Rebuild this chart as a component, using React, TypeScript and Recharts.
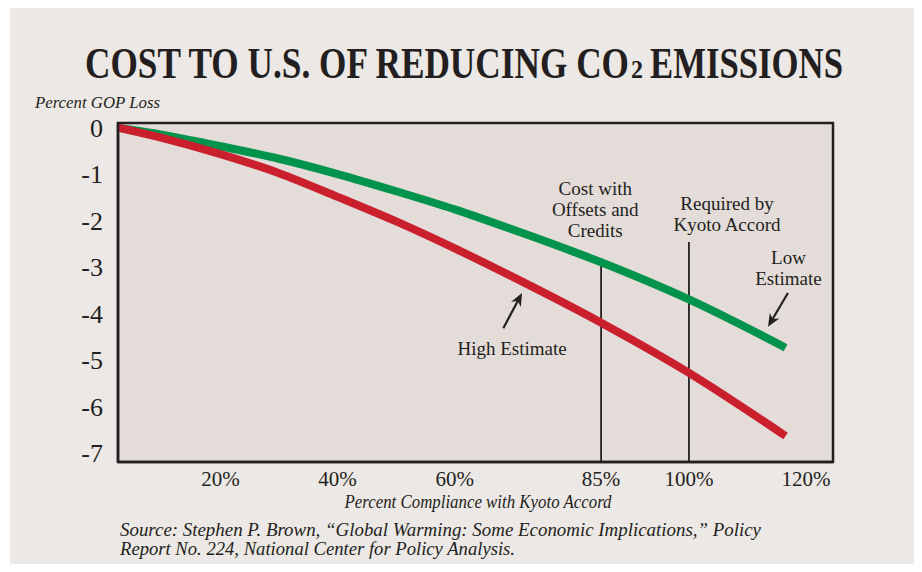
import React from "react";
import {
  LineChart,
  Line,
  XAxis,
  YAxis,
  ReferenceArea,
  ReferenceLine,
  ReferenceDot,
} from "recharts";

// Percent compliance with the Kyoto Accord (x) and percent GDP loss (y)
const compliance = [2.5, 10, 20, 30, 40, 50, 60, 70, 85, 100, 116.5];
const lowEstimate = [0, -0.15, -0.4, -0.67, -1.0, -1.37, -1.76, -2.2, -2.9, -3.7, -4.74];
const highEstimate = [0, -0.22, -0.57, -0.98, -1.49, -2.02, -2.6, -3.22, -4.2, -5.28, -6.64];

const xTicks = [20, 40, 60, 85, 100, 120];
const yTicks = [0, -1, -2, -3, -4, -5, -6, -7];

const X_DOMAIN: [number, number] = [2.5, 124.6];
const Y_DOMAIN: [number, number] = [-7.2, 0.1];

const serif = '"Liberation Serif", "DejaVu Serif", serif';
const ink = "#231f20";
const green = "#00934b";
const red = "#ca202e";

// horizontal squeeze for the condensed title face
const TITLE_SX = 0.7;

const data = compliance.map((pct, i) => ({
  pct,
  low: lowEstimate[i],
  high: highEstimate[i],
}));

function NoteText({ cx, cy, lines }: { cx: number; cy: number; lines: string[] }) {
  return (
    <text
      x={cx}
      y={cy}
      textAnchor="middle"
      style={{ fontFamily: serif, fontSize: 19, fill: ink }}
    >
      {lines.map((line, i) => (
        <tspan key={i} x={cx} dy={i === 0 ? "0.35em" : 21}>
          {line}
        </tspan>
      ))}
    </text>
  );
}

// line with a barbed head at the (x2, y2) end
function Arrow(props: any) {
  const { x1, y1, x2, y2 } = props;
  const a = Math.atan2(y2 - y1, x2 - x1);
  const cos = Math.cos(a);
  const sin = Math.sin(a);
  const len = 13;
  const half = 5.5;
  const bx = x2 - len * cos;
  const by = y2 - len * sin;
  const nx = x2 - len * 0.7 * cos;
  const ny = y2 - len * 0.7 * sin;
  const pts = [
    [x2, y2],
    [bx - half * sin, by + half * cos],
    [nx, ny],
    [bx + half * sin, by - half * cos],
  ]
    .map((p) => p.join(","))
    .join(" ");
  return (
    <g>
      <line x1={x1} y1={y1} x2={nx} y2={ny} stroke={ink} strokeWidth={2.2} />
      <polygon points={pts} fill={ink} />
    </g>
  );
}

function TitlePart({ x, width, size, children }: { x: number; width: number; size: number; children: string }) {
  return (
    <text
      x={x / TITLE_SX}
      y={78}
      textLength={width / TITLE_SX}
      lengthAdjust="spacingAndGlyphs"
      fontSize={size}
    >
      {children}
    </text>
  );
}

export default function App() {
  return (
    <div style={{ position: "relative", width: 922, height: 572, margin: -8, background: "#fff" }}>
      <div
        style={{
          position: "absolute",
          left: 10,
          top: 6,
          width: 907,
          height: 566,
          background: "#ece8e5",
        }}
      />
      <svg
        width={922}
        height={572}
        style={{ position: "absolute", left: 0, top: 0, fontFamily: serif }}
      >
        {/* title, with the small "2" of CO2 set on its own */}
        <g fontWeight="bold" fill={ink} transform={`scale(${TITLE_SX},1)`}>
          <TitlePart x={85} width={544} size={44}>COST TO U.S. OF REDUCING CO</TitlePart>
          <TitlePart x={631} width={12} size={26}>2</TitlePart>
          <TitlePart x={650} width={193} size={44}>EMISSIONS</TitlePart>
        </g>
        <text x={35} y={108} textLength={125} lengthAdjust="spacingAndGlyphs" fontSize={16} fontStyle="italic" fill={ink}>
          Percent GOP Loss
        </text>
        <text
          x={478}
          y={508}
          textAnchor="middle"
          textLength={267}
          lengthAdjust="spacingAndGlyphs"
          fontSize={18}
          fontStyle="italic"
          fill={ink}
        >
          Percent Compliance with Kyoto Accord
        </text>
        <text x={120} y={536} textLength={641} lengthAdjust="spacingAndGlyphs" fontSize={18} fontStyle="italic" fill={ink}>
          Source:  Stephen P. Brown, “Global Warming: Some Economic Implications,” Policy
        </text>
        <text x={120} y={555} textLength={395} lengthAdjust="spacingAndGlyphs" fontSize={18} fontStyle="italic" fill={ink}>
          Report No. 224, National Center for Policy Analysis.
        </text>
      </svg>

      <div style={{ position: "absolute", left: 0, top: 0 }}>
        <LineChart
          width={922}
          height={572}
          data={data}
          margin={{ top: 123, right: 89, bottom: 80, left: 58 }}
        >
          <ReferenceArea
            x1={X_DOMAIN[0]}
            x2={X_DOMAIN[1]}
            y1={Y_DOMAIN[0]}
            y2={Y_DOMAIN[1]}
            fill="#e3dcd9"
            fillOpacity={1}
            stroke={ink}
            strokeWidth={2.5}
          />
          <XAxis
            type="number"
            dataKey="pct"
            domain={X_DOMAIN}
            ticks={xTicks}
            allowDataOverflow
            tickFormatter={(v) => `${v}%`}
            tickLine={false}
            tickSize={0}
            tickMargin={9}
            height={30}
            axisLine={{ stroke: ink, strokeWidth: 2.5 }}
            tick={{ fontFamily: serif, fontSize: 21, fill: ink }}
          />
          <YAxis
            type="number"
            domain={Y_DOMAIN}
            ticks={yTicks}
            allowDataOverflow
            tickLine={false}
            tickSize={0}
            tickMargin={15}
            width={60}
            axisLine={{ stroke: ink, strokeWidth: 2.5 }}
            tick={{ fontFamily: serif, fontSize: 26, fill: ink }}
          />

          <ReferenceLine
            segment={[
              { x: 85, y: -2.9 },
              { x: 85, y: Y_DOMAIN[0] },
            ]}
            stroke={ink}
            strokeWidth={1.8}
          />
          <ReferenceLine
            segment={[
              { x: 100, y: -2.46 },
              { x: 100, y: Y_DOMAIN[0] },
            ]}
            stroke={ink}
            strokeWidth={1.8}
          />

          <Line
            type="monotone"
            dataKey="low"
            stroke={green}
            strokeWidth={8}
            dot={false}
            activeDot={false}
            isAnimationActive={false}
          />
          <Line
            type="monotone"
            dataKey="high"
            stroke={red}
            strokeWidth={8}
            dot={false}
            activeDot={false}
            isAnimationActive={false}
          />

          <ReferenceDot
            x={84}
            y={-1.3}
            shape={(p: any) => <NoteText cx={p.cx} cy={p.cy} lines={["Cost with", "Offsets and", "Credits"]} />}
          />
          <ReferenceDot
            x={106.5}
            y={-1.62}
            shape={(p: any) => <NoteText cx={p.cx} cy={p.cy} lines={["Required by", "Kyoto Accord"]} />}
          />
          <ReferenceDot
            x={117}
            y={-2.79}
            shape={(p: any) => <NoteText cx={p.cx} cy={p.cy} lines={["Low", "Estimate"]} />}
          />
          <ReferenceDot
            x={69.8}
            y={-4.75}
            shape={(p: any) => <NoteText cx={p.cx} cy={p.cy} lines={["High Estimate"]} />}
          />
          <ReferenceLine
            segment={[
              { x: 116.9, y: -3.56 },
              { x: 113.5, y: -4.29 },
            ]}
            shape={Arrow}
          />
          <ReferenceLine
            segment={[
              { x: 68.3, y: -4.32 },
              { x: 71.5, y: -3.56 },
            ]}
            shape={Arrow}
          />
        </LineChart>
      </div>
    </div>
  );
}
